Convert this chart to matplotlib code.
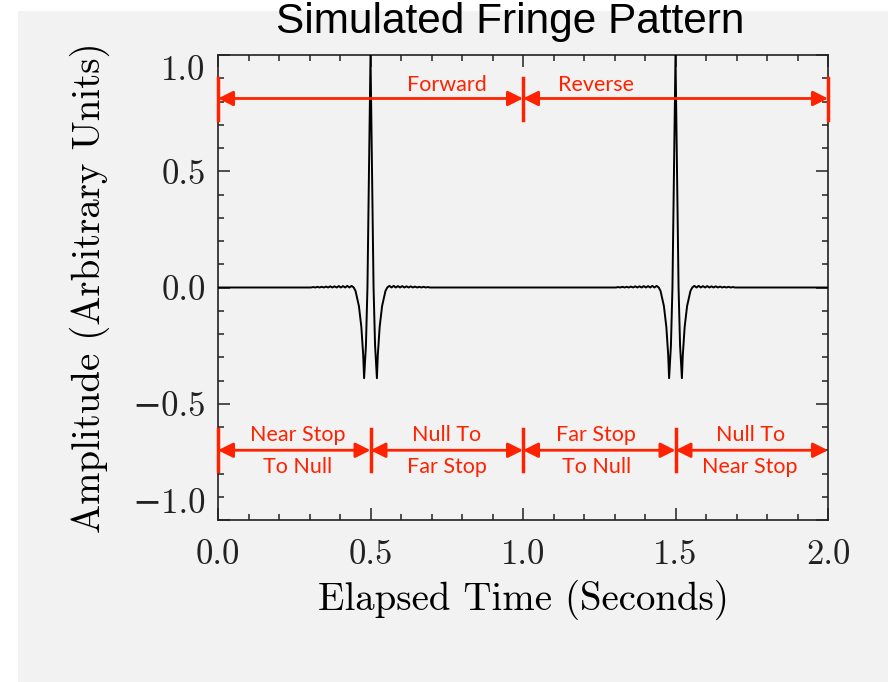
import matplotlib
matplotlib.use("Agg")
import matplotlib.pyplot as plt
import numpy as np
from matplotlib.patches import Rectangle

RED = "#ff2200"
PANEL = "#f2f2f2"
SERIF = ["cmr10", "DejaVu Serif"]
SANS = ["Lato", "DejaVu Sans"]

# fringe positions (s) and one fringe profile
fringe_centers = [0.5, 1.5]
profile_dt = [0.0, 0.005, 0.010, 0.015, 0.021, 0.024, 0.030, 0.038, 0.049, 0.055]
profile_amp = [1.0, 0.50, 0.0, -0.25, -0.39, -0.29, -0.17, -0.08, -0.015, 0.0]
ripple_dt = [0.062, 0.069, 0.076, 0.083, 0.090, 0.097, 0.104, 0.111, 0.118, 0.125,
             0.132, 0.139, 0.146, 0.153, 0.160, 0.167, 0.174, 0.181, 0.188, 0.195]
ripple_amp = [0.007, 0.0, 0.007, 0.0, 0.006, 0.0, 0.006, 0.0, 0.005, 0.0,
              0.005, 0.0, 0.004, 0.0, 0.003, 0.0, 0.003, 0.0, 0.002, 0.0]

x_ticks = [0.0, 0.5, 1.0, 1.5, 2.0]
x_labels = ["0.0", "0.5", "1.0", "1.5", "2.0"]
y_ticks = [-1.0, -0.5, 0.0, 0.5, 1.0]
y_labels = ["\u22121.0", "\u22120.5", "0.0", "0.5", "1.0"]

# annotation spans
top_bounds = [0.0, 1.0, 2.0]
top_text = ["Forward", "Reverse"]
top_text_x = [0.75, 1.24]
bottom_bounds = [0.0, 0.5, 1.0, 1.5, 2.0]
bottom_text = [("Near Stop", "To Null"), ("Null To", "Far Stop"),
               ("Far Stop", "To Null"), ("Null To", "Near Stop")]
bottom_text_x = [0.26, 0.75, 1.24, 1.745]

# assemble the trace from the read points
side_dt = list(profile_dt[1:]) + ripple_dt
side_amp = list(profile_amp[1:]) + ripple_amp
prof_dt = [-d for d in side_dt[::-1]] + [0.0] + side_dt
prof_amp = side_amp[::-1] + [profile_amp[0]] + side_amp
t = [0.0]
amp = [0.0]
for c in fringe_centers:
    t += [c + d for d in prof_dt]
    amp += prof_amp
t.append(2.0)
amp.append(0.0)

fig = plt.figure(figsize=(8.88, 6.82), dpi=100, facecolor="white")
fig.patches.append(Rectangle((18 / 888, 0), 1, 1 - 11 / 682, transform=fig.transFigure,
                             facecolor=PANEL, edgecolor="none", zorder=-10))
ax = fig.add_axes([218 / 888, 1 - 520 / 682, 610 / 888, 465 / 682])
ax.set_facecolor(PANEL)

ax.plot(t, amp, color="black", lw=1.4, zorder=3)

ax.set_xlim(0, 2)
ax.set_ylim(-1, 1)
ax.set_xticks(x_ticks)
ax.set_xticklabels(x_labels, family=SERIF, fontsize=25)
ax.set_yticks(y_ticks)
ax.set_yticklabels(y_labels, family=SERIF, fontsize=25)
ax.set_xticks(np.arange(0, 2.01, 0.1), minor=True)
ax.set_yticks(np.arange(-1, 1.01, 0.1), minor=True)
ax.tick_params(which="both", direction="in", top=True, right=True, colors="#222222")
ax.tick_params(which="major", length=8.5, width=1.1)
ax.tick_params(which="minor", length=4.3, width=1.1)
ax.tick_params(axis="x", pad=14)
ax.tick_params(axis="y", pad=9)
ylabs = ax.get_yticklabels()
ylabs[0].set_va("bottom")
ylabs[-1].set_va("top")
for s in ax.spines.values():
    s.set_linewidth(1.2)
    s.set_color("#222222")

ax.set_xlabel("Elapsed Time (Seconds)", family=SERIF, fontsize=28, labelpad=6)
ax.set_ylabel("Amplitude (Arbitrary Units)", family=SERIF, fontsize=28, labelpad=16)

fig.text(510 / 888, 1 - 22 / 682, "Simulated Fringe Pattern", family="Liberation Sans",
         fontsize=30.5, ha="center", va="center")

arrow = dict(arrowstyle="<|-|>,head_length=0.5,head_width=0.25", color=RED, lw=2,
             shrinkA=0, shrinkB=0, mutation_scale=18)

# top row
y_top = 0.813
for a, b in zip(top_bounds[:-1], top_bounds[1:]):
    ax.annotate("", xy=(b, y_top), xytext=(a, y_top), arrowprops=arrow,
                annotation_clip=False, zorder=5)
for xb in top_bounds:
    ax.plot([xb, xb], [0.72, 0.90], color=RED, lw=2.5, clip_on=False, zorder=5)
for xt, s in zip(top_text_x, top_text):
    ax.text(xt, 0.87, s, color=RED, family=SANS, fontsize=15.5, ha="center", va="center")

# bottom row
y_bot = -0.70
for a, b in zip(bottom_bounds[:-1], bottom_bounds[1:]):
    ax.annotate("", xy=(b, y_bot), xytext=(a, y_bot), arrowprops=arrow,
                annotation_clip=False, zorder=5)
for xb in bottom_bounds[:-1]:
    ax.plot([xb, xb], [-0.61, -0.79], color=RED, lw=2.5, clip_on=False, zorder=5)
for xt, (l1, l2) in zip(bottom_text_x, bottom_text):
    ax.text(xt, -0.635, l1, color=RED, family=SANS, fontsize=15.5, ha="center", va="center")
    ax.text(xt, -0.77, l2, color=RED, family=SANS, fontsize=15.5, ha="center", va="center")

fig.savefig("out.png", dpi=100, facecolor=fig.get_facecolor())
